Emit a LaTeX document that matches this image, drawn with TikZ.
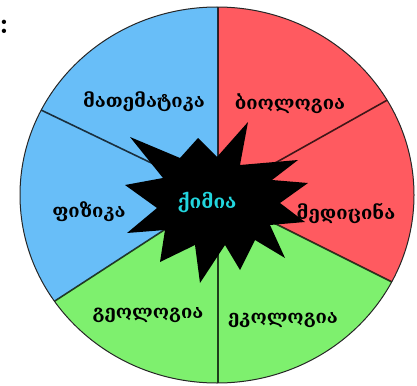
\documentclass[tikz,border=0pt]{standalone}
\usepackage{fontspec}
\newfontfamily\geo{DejaVu Serif}
\definecolor{wblue}{RGB}{104,190,248}
\definecolor{wred}{RGB}{255,90,96}
\definecolor{wgreen}{RGB}{126,240,110}
\definecolor{wcyan}{RGB}{34,214,222}
\tikzset{
  divline/.style={draw=black, opacity=0.75, line width=1.6pt},
  lbl/.style={font=\geo\bfseries\fontsize{18.5}{20}\selectfont, text=black, inner sep=0pt},
}
\begin{document}
\begin{tikzpicture}[x=1pt,y=-1pt]
\useasboundingbox (0,0) rectangle (417,385);
\coordinate (C) at (218,195);
\coordinate (E) at (217,195);
\begin{scope}
  \clip (E) ellipse [x radius=197, y radius=188];
  \fill[wblue] (C) -- (-254,501) -- (-300,501) -- (-300,-300) -- (218,-300) -- cycle;
  \fill[wred] (C) -- (218,-300) -- (728,-300) -- (728,450) -- cycle;
  \fill[wgreen] (C) -- (728,450) -- (728,700) -- (-300,700) -- (-254,501) -- cycle;
  \draw[divline] (C) -- (218,-300);
  \draw[divline] (C) -- (218,700);
  \draw[divline] (C) -- ++(-531,-255);
  \draw[divline] (C) -- ++(519,-291);
  \draw[divline] (C) -- ++(510,255);
  \draw[divline] (C) -- ++(-471,306);
\end{scope}
\draw[black!85, line width=1pt] (E) ellipse [x radius=197, y radius=188];
% starburst
\fill[black] (248,122) -- (240,165) -- (298,160) -- (272,180) -- (308,183)
  -- (280,203) -- (305,222) -- (270,225) -- (285,258) -- (255,240)
  -- (240,270) -- (225,245) -- (200,283) -- (195,245) -- (160,262)
  -- (165,230) -- (127,233) -- (157,208) -- (125,185) -- (163,178)
  -- (130,137) -- (180,158) -- (198,138) -- (217,157) -- cycle;
\node[lbl] (math) at (144,102) {მათემატიკა};
\node[lbl] (bio) at (290,104) {ბიოლოგია};
\node[lbl] (phys) at (89,212) {ფიზიკა};
\node[lbl] (med) at (346,213) {მედიცინა};
\node[lbl] (geol) at (148,315) {გეოლოგია};
\node[lbl] (ecol) at (283,320) {ეკოლოგია};
\node[lbl, text=wcyan, font=\geo\bfseries\fontsize{19}{21}\selectfont] (chem) at (207,203) {ქიმია};
\node[inner sep=0pt, font=\bfseries\fontsize{30}{32}\selectfont] (colon) at (4,27) {:};
\end{tikzpicture}
\end{document}
